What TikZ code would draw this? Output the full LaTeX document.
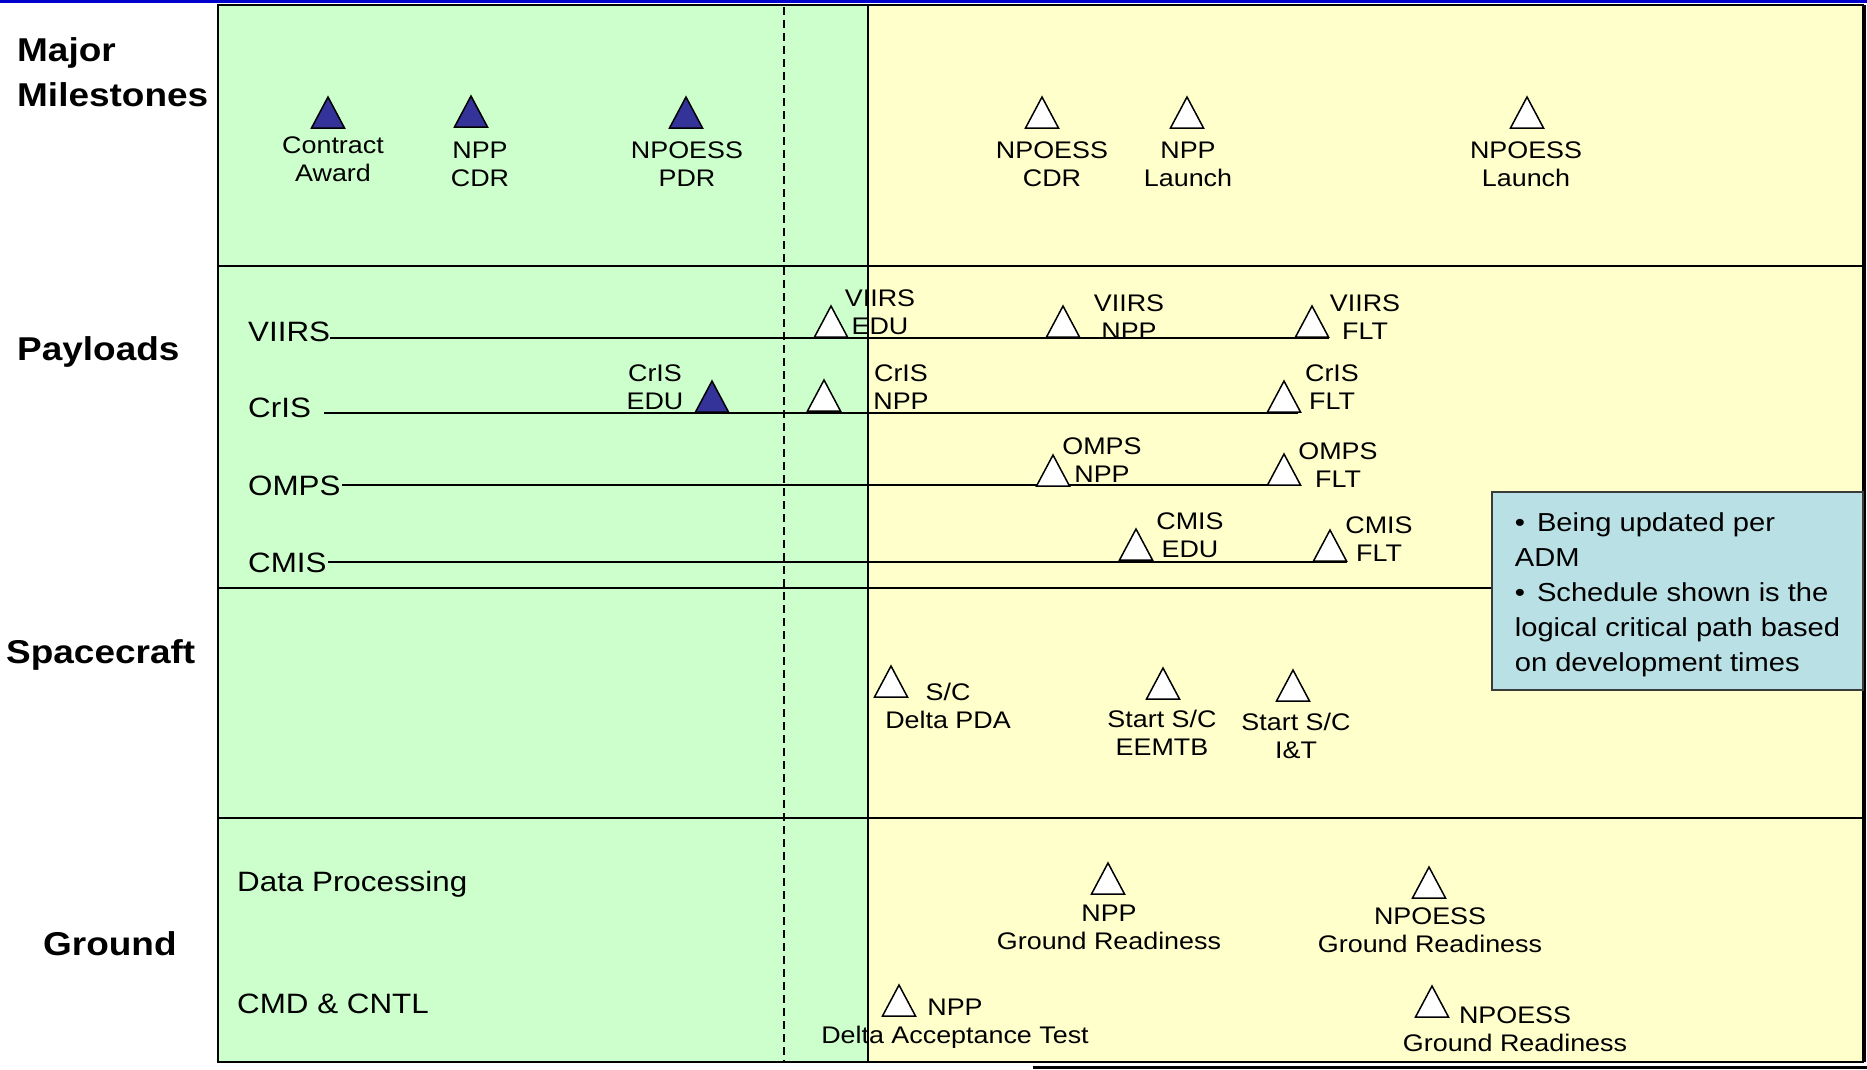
\documentclass[tikz,border=0pt]{standalone}
\usepackage{fontspec}
\setmainfont{Liberation Sans}[FakeStretch=1.12]
\definecolor{gfill}{HTML}{CCFFCC}
\definecolor{yfill}{HTML}{FFFFCC}
\definecolor{msblue}{HTML}{333399}
\definecolor{notefill}{HTML}{B9E0E5}
\definecolor{topblue}{HTML}{0000CC}
\definecolor{noteedge}{HTML}{3A3A3A}
\begin{document}
\begin{tikzpicture}[x=1pt,y=-1pt,
  lab/.style={inner sep=0pt, align=center, anchor=north, font=\fontsize{24}{28}\selectfont},
  rowlab/.style={inner sep=0pt, anchor=base west, font=\fontsize{28}{32}\selectfont},
  head/.style={inner sep=0pt, anchor=north west, align=left, font=\bfseries\fontsize{33}{45}\selectfont},
  rowline/.style={line width=2pt},
  divider/.style={line width=2pt},
  notebox/.style={draw=noteedge, line width=2pt, fill=notefill, inner sep=0pt, align=left,
     minimum width=371pt, minimum height=198pt, anchor=north west, font=\fontsize{26}{35}\selectfont},
  msf/.pic={\draw[line width=1.5pt, fill=msblue] (-16.5,0) -- (0,-31) -- (16.5,0) -- cycle;},
  mso/.pic={\draw[line width=1.5pt, fill=white] (-16.5,0) -- (0,-31) -- (16.5,0) -- cycle;}
]
\useasboundingbox (0,0) rectangle (1867,1069);
\fill[white] (0,0) rectangle (1867,1069);
% top blue rule
\draw[topblue, line width=3pt] (0,1.5) -- (1867,1.5);
% backgrounds
\fill[gfill] (218,5) rectangle (868,1062);
\fill[yfill] (868,5) rectangle (1863,1062);
% dividers
\draw[divider] (218,266) -- (1863,266);
\draw[divider] (218,588) -- (1863,588);
\draw[divider] (218,818) -- (1863,818);
\draw[line width=1.5pt] (868,5) -- (868,1062);
\draw[line width=2pt, dash pattern=on 8pt off 5pt] (783.5,7) -- (783.5,1062);
% frame
\draw[line width=2pt] (218,5) rectangle (1863,1062);
\draw[line width=3pt] (1864,5) -- (1864,1062);
\draw[line width=3pt] (1033,1067.5) -- (1867,1067.5);

% headings
\node[head] (h-mm) at (17,37) {Major\\Milestones};
\node[head, anchor=base west] (h-pl) at (17,360) {Payloads};
\node[head, anchor=base west] (h-sc) at (6,663) {Spacecraft};
\node[head, anchor=base west] (h-gr) at (43,955) {Ground};

% row labels
\node[rowlab] (r-viirs) at (248,341) {VIIRS};
\node[rowlab] (r-cris) at (248,417) {CrIS};
\node[rowlab] (r-omps) at (248,495) {OMPS};
\node[rowlab] (r-cmis) at (248,572) {CMIS};
\node[rowlab] (r-dp) at (237,891) {Data Processing};
\node[rowlab] (r-cmd) at (237,1013) {CMD \& CNTL};

% row lines
\coordinate (v0) at (330,338);  \coordinate (v1) at (1329,338);
\coordinate (c0) at (324,413);  \coordinate (c1) at (1298,413);
\coordinate (o0) at (342,485);  \coordinate (o1) at (1301,485);
\coordinate (m0) at (328,562);  \coordinate (m1) at (1347,562);
\draw[rowline] (v0) -- (v1);
\draw[rowline] (c0) -- (c1);
\draw[rowline] (o0) -- (o1);
\draw[rowline] (m0) -- (m1);

% milestone triangles
\pic (t-ca) at (328,128) {msf};
\pic (t-nc) at (471,127) {msf};
\pic (t-pdr) at (686,128) {msf};
\pic (t-cdr) at (1042,128) {mso};
\pic (t-nl) at (1187,128) {mso};
\pic (t-ol) at (1527,128) {mso};
% payload triangles
\pic (t-ve) at (831,337) {mso};
\pic (t-vn) at (1063,337) {mso};
\pic (t-vf) at (1312,337) {mso};
\pic (t-ce) at (712,412) {msf};
\pic (t-cn) at (824,411) {mso};
\pic (t-cf) at (1284,412) {mso};
\pic (t-on) at (1053,486) {mso};
\pic (t-of) at (1284,485) {mso};
\pic (t-me) at (1136,560) {mso};
\pic (t-mf) at (1330,561) {mso};
% spacecraft triangles
\pic (t-sp) at (891,697) {mso};
\pic (t-se) at (1163,699) {mso};
\pic (t-si) at (1293,701) {mso};
% ground triangles
\pic (t-g1) at (1108,894) {mso};
\pic (t-g2) at (1429,898) {mso};
\pic (t-g3) at (899,1016) {mso};
\pic (t-g4) at (1432,1017) {mso};

% milestone labels
\node[lab] (l-ca) at (333,137) {Contract\\Award};
\node[lab] (l-nc) at (480,142) {NPP\\CDR};
\node[lab] (l-pdr) at (687,142) {NPOESS\\PDR};
\node[lab] (l-cdr) at (1052,142) {NPOESS\\CDR};
\node[lab] (l-nl) at (1188,142) {NPP\\Launch};
\node[lab] (l-ol) at (1526,142) {NPOESS\\Launch};
% payload labels
\node[lab] (l-ve) at (880,290) {VIIRS\\EDU};
\node[lab] (l-vn) at (1129,295) {VIIRS\\NPP};
\node[lab] (l-vf) at (1365,295) {VIIRS\\FLT};
\node[lab] (l-ce) at (655,365) {CrIS\\EDU};
\node[lab] (l-cn) at (901,365) {CrIS\\NPP};
\node[lab] (l-cf) at (1332,365) {CrIS\\FLT};
\node[lab] (l-on) at (1102,438) {OMPS\\NPP};
\node[lab] (l-of) at (1338,443) {OMPS\\FLT};
\node[lab] (l-me) at (1190,513) {CMIS\\EDU};
\node[lab] (l-mf) at (1379,517) {CMIS\\FLT};
% spacecraft labels
\node[lab] (l-sp) at (948,683) {S/C\\Delta PDA};
\node[lab] (l-se) at (1162,710) {Start S/C\\EEMTB};
\node[lab] (l-si) at (1296,713) {Start S/C\\I\&T};
% ground labels
\node[lab] (l-g1) at (1109,905) {NPP\\Ground Readiness};
\node[lab] (l-g2) at (1430,908) {NPOESS\\Ground Readiness};
\node[lab] (l-g3) at (955,999) {NPP\\Delta Acceptance Test};
\node[lab] (l-g4) at (1515,1007) {NPOESS\\Ground Readiness};

% note box
\node[notebox] (note) at (1491,491) {\rule{0pt}{26pt}\textbullet\hspace{12pt}Being updated per\\ADM\\\textbullet\hspace{12pt}Schedule shown is the\\logical critical path based\\on development times};
\end{tikzpicture}
\end{document}
